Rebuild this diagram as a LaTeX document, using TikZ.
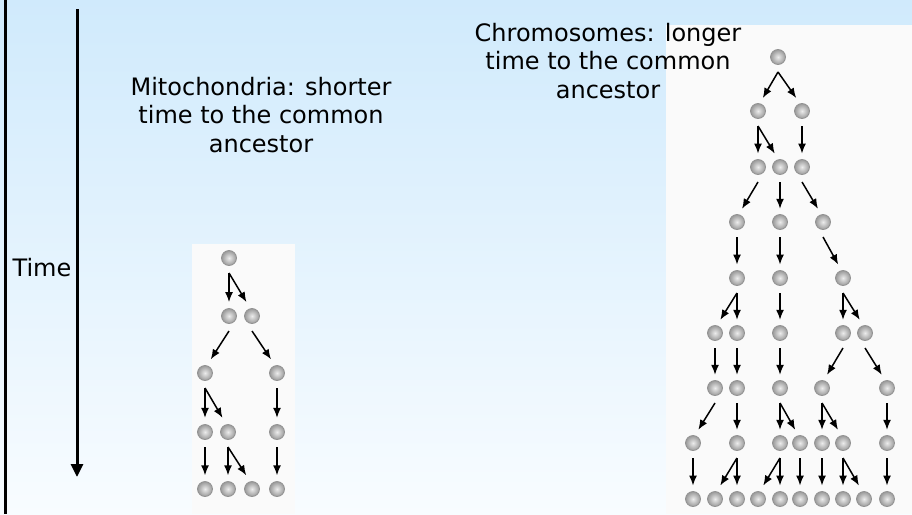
\documentclass[tikz,border=0pt]{standalone}
\usepackage{fontspec}
\setmainfont{DejaVu Sans}
\usetikzlibrary{calc,arrows.meta}
\definecolor{bgtop}{RGB}{208,234,252}
\definecolor{bgbot}{RGB}{248,252,255}
\definecolor{photo}{RGB}{250,250,250}
\tikzset{
  cell/.style={circle, minimum size=15pt, inner sep=0pt, shading=radial,
    inner color=gray!15, outer color=gray!80, draw=gray!85, line width=0.8pt},
  desc/.style={align=center, font=\fontsize{24}{28.5}\selectfont, text=black},
  treearrow/.style={line width=1.5pt, -{Latex[length=10pt,width=8pt]}},
}
\newcommand\tarrow[2]{\draw[treearrow] ($(#1)+(0,15)$) -- ($(#2)!0.24!(#1)$);}
\begin{document}
\begin{tikzpicture}[x=1pt,y=-1pt]
\useasboundingbox (0,0) rectangle (912,514);
\shade[top color=bgtop, bottom color=bgbot] (0,0) rectangle (912,514);
% photo backgrounds
\fill[photo] (192,244) rectangle (295,514);
\fill[photo] (666,25) rectangle (912,514);
% left border and time axis
\draw[line width=3pt] (5,0) -- (5,514);
\coordinate (ttop) at (77,9);
\coordinate (tbot) at (77,477);
\draw[line width=3pt, -{Triangle[length=13pt,width=12pt]}] (ttop) -- (tbot);
\node[desc] (time) at (42,268) {Time};
% texts
\node[desc] (mito) at (261,115) {Mitochondria: shorter\\time to the common\\ancestor};
\node[desc] (chromo) at (608,61) {Chromosomes: longer\\time to the common\\ancestor};
% mitochondria tree
\node[cell] (m11) at (229,258) {};
\node[cell] (m21) at (229,316) {};
\node[cell] (m22) at (252,316) {};
\node[cell] (m31) at (205,373) {};
\node[cell] (m32) at (277,373) {};
\node[cell] (m41) at (205,432) {};
\node[cell] (m42) at (228,432) {};
\node[cell] (m43) at (277,432) {};
\node[cell] (m51) at (205,489) {};
\node[cell] (m52) at (228,489) {};
\node[cell] (m53) at (252,489) {};
\node[cell] (m54) at (277,489) {};
\tarrow{m11}{m21}\tarrow{m11}{m22}
\tarrow{m21}{m31}\tarrow{m22}{m32}
\tarrow{m31}{m41}\tarrow{m31}{m42}\tarrow{m32}{m43}
\tarrow{m41}{m51}\tarrow{m42}{m52}\tarrow{m42}{m53}\tarrow{m43}{m54}
% chromosome tree
\node[cell] (c11) at (778,57) {};
\node[cell] (c21) at (758,111) {};
\node[cell] (c22) at (802,111) {};
\node[cell] (c31) at (758,167) {};
\node[cell] (c32) at (780,167) {};
\node[cell] (c33) at (802,167) {};
\node[cell] (c41) at (737,222) {};
\node[cell] (c42) at (780,222) {};
\node[cell] (c43) at (823,222) {};
\node[cell] (c51) at (737,278) {};
\node[cell] (c52) at (780,278) {};
\node[cell] (c53) at (843,278) {};
\node[cell] (c61) at (715,333) {};
\node[cell] (c62) at (737,333) {};
\node[cell] (c63) at (780,333) {};
\node[cell] (c64) at (843,333) {};
\node[cell] (c65) at (865,333) {};
\node[cell] (c71) at (715,388) {};
\node[cell] (c72) at (737,388) {};
\node[cell] (c73) at (780,388) {};
\node[cell] (c74) at (822,388) {};
\node[cell] (c75) at (887,388) {};
\node[cell] (c81) at (693,443) {};
\node[cell] (c82) at (737,443) {};
\node[cell] (c83) at (780,443) {};
\node[cell] (c84) at (800,443) {};
\node[cell] (c85) at (822,443) {};
\node[cell] (c86) at (843,443) {};
\node[cell] (c87) at (887,443) {};
\node[cell] (c91) at (693,499) {};
\node[cell] (c92) at (715,499) {};
\node[cell] (c93) at (737,499) {};
\node[cell] (c94) at (758,499) {};
\node[cell] (c95) at (780,499) {};
\node[cell] (c96) at (800,499) {};
\node[cell] (c97) at (822,499) {};
\node[cell] (c98) at (843,499) {};
\node[cell] (c99) at (864,499) {};
\node[cell] (c910) at (887,499) {};
\tarrow{c11}{c21}\tarrow{c11}{c22}
\tarrow{c21}{c31}\tarrow{c21}{c32}\tarrow{c22}{c33}
\tarrow{c31}{c41}\tarrow{c32}{c42}\tarrow{c33}{c43}
\tarrow{c41}{c51}\tarrow{c42}{c52}\tarrow{c43}{c53}
\tarrow{c51}{c61}\tarrow{c51}{c62}\tarrow{c52}{c63}\tarrow{c53}{c64}\tarrow{c53}{c65}
\tarrow{c61}{c71}\tarrow{c62}{c72}\tarrow{c63}{c73}\tarrow{c64}{c74}\tarrow{c65}{c75}
\tarrow{c71}{c81}\tarrow{c72}{c82}\tarrow{c73}{c83}\tarrow{c73}{c84}\tarrow{c74}{c85}\tarrow{c74}{c86}\tarrow{c75}{c87}
\tarrow{c81}{c91}\tarrow{c82}{c92}\tarrow{c82}{c93}\tarrow{c83}{c94}\tarrow{c83}{c95}\tarrow{c84}{c96}\tarrow{c85}{c97}\tarrow{c86}{c98}\tarrow{c86}{c99}\tarrow{c87}{c910}
\end{tikzpicture}
\end{document}
